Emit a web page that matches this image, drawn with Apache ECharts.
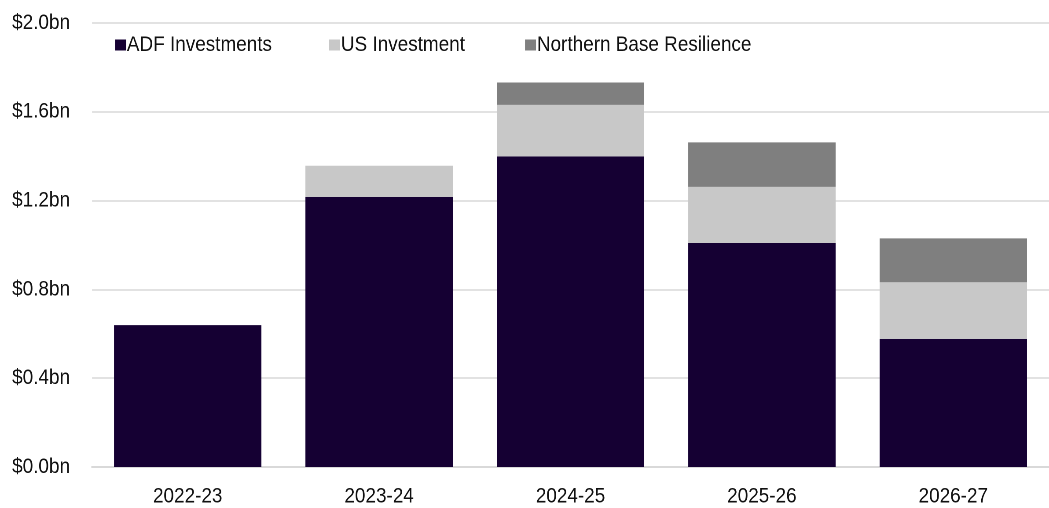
<!DOCTYPE html>
<html>
<head>
<meta charset="utf-8">
<script src="https://cdn.jsdelivr.net/npm/echarts@6/dist/echarts.min.js"></script>
<style>
  html, body { margin: 0; padding: 0; background: #ffffff; overflow: hidden; }
  #frame { width: 1049px; height: 508px; overflow: hidden; }
  /* The chart is laid out wider and squeezed horizontally, giving the narrow type */
  #chart { width: 1192px; height: 508px; transform-origin: 0 0; }
</style>
</head>
<body>
<div id="frame"><div id="chart"></div></div>
<script>
// Financial years on the category axis
const years = ['2022-23', '2023-24', '2024-25', '2025-26', '2026-27'];

// Funding by stream, $bn
const adfInvestments = [0.639, 1.217, 1.399, 1.009, 0.577];
const usInvestment = [0, 0.140, 0.232, 0.253, 0.255];
const northernBaseResilience = [0, 0, 0.101, 0.200, 0.198];

// Value axis ticks, $bn
const yMin = 0;
const yMax = 2.0;
const yStep = 0.4;

const seriesNames = ['ADF Investments', 'US Investment', 'Northern Base Resilience'];
const seriesColors = ['#150033', '#c8c8c8', '#7f7f7f'];
const seriesData = [adfInvestments, usInvestment, northernBaseResilience];

// Horizontal squeeze applied to the whole chart
const squeeze = 1049 / 1192;
const sx = v => v / squeeze;
document.getElementById('chart').style.transform = 'scaleX(' + squeeze + ')';

const legendLeft = [115, 329, 525].map(sx);
const font = 'Liberation Sans, Arial, sans-serif';
const fontSize = 21.5;
const textColor = '#111111';

const chart = echarts.init(document.getElementById('chart'), null, { renderer: 'canvas', devicePixelRatio: 2 });

chart.setOption({
  animation: false,
  backgroundColor: '#ffffff',
  textStyle: { fontFamily: font },
  grid: { left: sx(92), right: 0, top: 23, bottom: 41, containLabel: false },
  legend: seriesNames.map((name, i) => ({
    data: [name],
    left: legendLeft[i],
    top: 34,
    padding: 0,
    itemWidth: sx(11),
    itemHeight: 11,
    icon: 'rect',
    selectedMode: false,
    textStyle: { fontFamily: font, fontSize: fontSize, color: textColor, padding: [0, 0, 0, -4] }
  })),
  xAxis: {
    type: 'category',
    data: years,
    axisTick: { show: false },
    axisLine: { show: true, lineStyle: { color: '#d9d9d9', width: 2 } },
    axisLabel: { fontFamily: font, fontSize: fontSize, color: textColor, margin: 18.5 }
  },
  yAxis: {
    type: 'value',
    min: yMin,
    max: yMax,
    interval: yStep,
    axisLine: { show: false },
    axisTick: { show: false },
    splitLine: { lineStyle: { color: '#d9d9d9', width: 1.5 } },
    axisLabel: {
      fontFamily: font,
      fontSize: fontSize,
      color: textColor,
      margin: sx(22),
      formatter: v => '$' + v.toFixed(1) + 'bn'
    }
  },
  series: seriesNames.map((name, i) => ({
    name: name,
    type: 'bar',
    stack: 'total',
    barCategoryGap: '23%',
    data: seriesData[i],
    itemStyle: { color: seriesColors[i] }
  }))
});
</script>
</body>
</html>
